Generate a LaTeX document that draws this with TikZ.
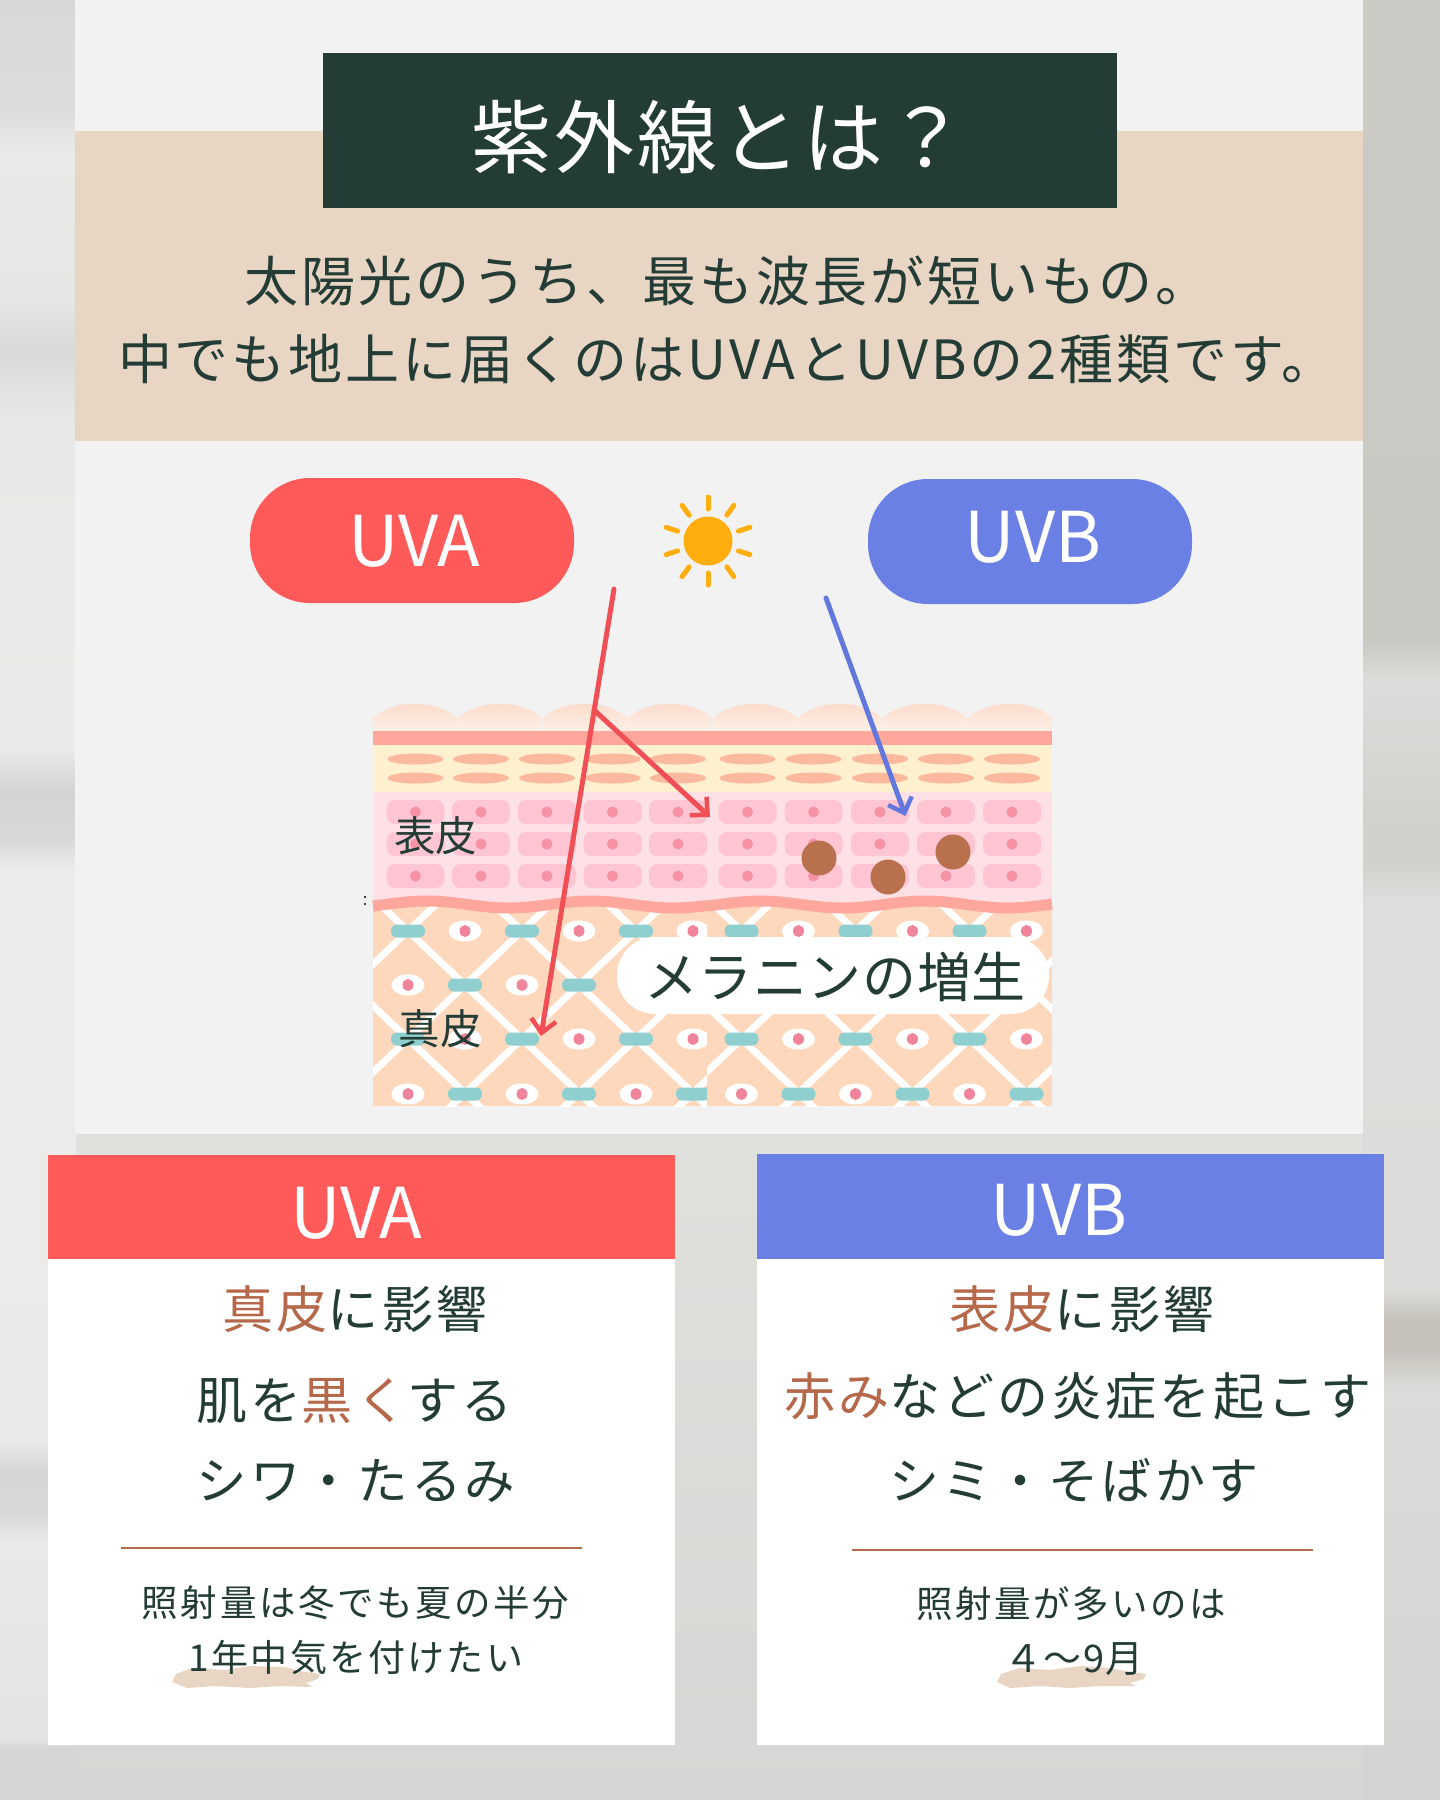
\documentclass[tikz,border=0pt]{standalone}
\usepackage{fontspec}
\usetikzlibrary{arrows.meta}
\newfontfamily\cjk{Noto Sans CJK JP}
\newcommand{\fsz}[2]{\fontsize{#1}{#1}\selectfont\addfontfeature{LetterSpace=#2}}
\definecolor{ink}{HTML}{233C35}
\definecolor{gapa}{HTML}{E0E0DD}
\definecolor{gapb}{HTML}{D6D7D4}
\definecolor{panelc}{HTML}{F2F2F2}
\definecolor{beige}{HTML}{E9D5C3}
\definecolor{uvared}{HTML}{FF5A5A}
\definecolor{uvblue}{HTML}{6A80E4}
\definecolor{accent}{HTML}{B5694A}
\definecolor{arrred}{HTML}{F04F55}
\definecolor{arrblue}{HTML}{6278DC}
\definecolor{sunc}{HTML}{FFAE0D}
\definecolor{skinband}{HTML}{FFA79C}
\definecolor{skinyel}{HTML}{FFF0CF}
\definecolor{skinoval}{HTML}{FDB99D}
\definecolor{skinpink}{HTML}{FEE1E6}
\definecolor{cellc}{HTML}{FFC5D3}
\definecolor{nucc}{HTML}{F792A5}
\definecolor{derm}{HTML}{FDD8BC}
\definecolor{pillc}{HTML}{90CFD0}
\definecolor{eyec}{HTML}{F0849A}
\definecolor{melc}{HTML}{B9704C}
\definecolor{bumpa}{HTML}{FBD9C8}
\definecolor{bumpb}{HTML}{FEF2EA}
\pgfdeclareverticalshading{leftbg}{100bp}{
 rgb(0bp)=(.84,.843,.83); rgb(25bp)=(.84,.843,.83); rgb(26.45bp)=(.84,.843,.83); rgb(26.7bp)=(.89,.894,.886);
 rgb(32.22bp)=(.914,.914,.906); rgb(32.92bp)=(.851,.855,.847); rgb(34.17bp)=(.835,.839,.831);
 rgb(35bp)=(.922,.918,.91); rgb(50.83bp)=(.929,.925,.918); rgb(51.67bp)=(.847,.847,.839);
 rgb(53.06bp)=(.831,.835,.827); rgb(54.17bp)=(.918,.918,.91); rgb(63.33bp)=(.91,.91,.902);
 rgb(65.28bp)=(.851,.855,.847); rgb(66.67bp)=(.902,.902,.894); rgb(70.83bp)=(.914,.914,.906);
 rgb(71.94bp)=(.863,.867,.859); rgb(75bp)=(.847,.851,.843); rgb(100bp)=(.847,.851,.843)}
\pgfdeclareverticalshading{rightbg}{100bp}{
 rgb(0bp)=(.827,.831,.82); rgb(25bp)=(.827,.831,.82); rgb(36.5bp)=(.859,.859,.851);
 rgb(37.5bp)=(.773,.757,.729); rgb(38.3bp)=(.773,.757,.729); rgb(39.2bp)=(.863,.863,.855);
 rgb(50bp)=(.867,.867,.859); rgb(51.1bp)=(.816,.816,.804); rgb(51.9bp)=(.816,.816,.804);
 rgb(56.1bp)=(.863,.863,.855); rgb(57.2bp)=(.788,.784,.765); rgb(75bp)=(.796,.792,.773);
 rgb(100bp)=(.796,.792,.773)}
\tikzset{
  txt/.style={inner sep=0pt,outer sep=0pt,text=ink,font=\cjk,align=center},
  whitetxt/.style={txt,text=white},
  pillbox/.style={fill=#1,draw=none,rounded corners=60pt},
  arr/.style={line width=5pt,draw=#1,-{Straight Barb[length=13pt,width=25pt,line width=4.5pt]},line cap=round}
}
\begin{document}
\begin{tikzpicture}[x=1pt,y=-1pt]
\useasboundingbox (0,0) rectangle (1440,1800);
% background
\shade[top color=gapa,bottom color=gapb] (70,1120) rectangle (1370,1800);
\shade[shading=leftbg] (0,0) rectangle (76,1800);
\shade[shading=rightbg] (1362,0) rectangle (1440,1800);
% panel
\fill[panelc] (75,0) rectangle (1363,1134);
\fill[beige] (75,131) rectangle (1363,441);
\fill[ink] (323,53) rectangle (1117,208);
\node[whitetxt] (title) at (719,137) {\fsz{80}{4}紫外線とは？};
\node[txt] (lead1) at (727,281) {\fsz{54}{5.5}太陽光のうち、最も波長が短いもの。};
\node[txt] (lead2) at (727,359) {\fsz{54}{5.5}中でも地上に届くのはUVAとUVBの2種類です。};
% pills
\node[pillbox=uvared,minimum width=324pt,minimum height=125pt,inner sep=0pt] (pilla) at (412,540.5) {};
\node[pillbox=uvblue,minimum width=324pt,minimum height=125pt,inner sep=0pt] (pillb) at (1030,541.5) {};
\node[whitetxt] (pillatxt) at (414,541) {\fsz{70}{0}UVA};
\node[whitetxt] (pillbtxt) at (1033,537) {\fsz{70}{0}UVB};
% sun
\fill[sunc] (708,541) circle (24.5);
\foreach \a in {18,54,...,342}
  \draw[sunc,line width=5pt,line cap=round] ({708+32*cos(\a)},{541-32*sin(\a)}) -- ({708+44*cos(\a)},{541-44*sin(\a)});
% skin: bumps
\foreach \s in {373,458,543,628,713,798,883,968}
  \shade[top color=bumpa,bottom color=bumpb]
    (\s,718) .. controls (\s+20,699) and (\s+64,699) .. (\s+84,718) -- (\s+84,735) -- (\s,735) -- cycle;
\fill[skinband] (373,731) rectangle (1052,745);
\fill[skinyel] (373,745) rectangle (1052,792);
\fill[skinpink] (373,792) rectangle (1052,905);
\foreach \x in {415.5,481,547,612.5,678,747.5,813.5,880,946,1012}{
  \foreach \y in {759,778}
    \fill[skinoval] (\x,\y) ellipse (28 and 5.5);
  \foreach \y in {812,844,876}{
    \fill[cellc,rounded corners=8pt] (\x-29,\y-12) rectangle (\x+29,\y+12);
    \fill[nucc] (\x,\y) ellipse (5.5 and 5.5);
  }
}
% dermis
\fill[derm] (373,905) rectangle (1052,1106);
\foreach \ox/\xa/\xb in {408/373/707,741.5/707/1052}{
  \begin{scope}
    \clip (\xa,905) rectangle (\xb,1106);
    \foreach \k in {-4,...,7}{
      \draw[white,line width=7pt] ({\ox+114*\k-57},{931-54}) -- ({\ox+114*\k+57*4},{931+54*4});
      \draw[white,line width=7pt] ({\ox+114*\k+57},{931-54}) -- ({\ox+114*\k-57*4},{931+54*4});
    }
    \foreach \i in {0,1,2,3}{
      \pgfmathsetmacro{\px}{\ox+114*\i}
      \pgfmathsetmacro{\qx}{\px+57}
      \foreach \cx/\cy/\kind in {\px/931/0,\qx/931/1,\qx/985/0,\px/985/1,\px/1039/0,\qx/1039/1,\qx/1094/0,\px/1094/1}{
        \ifnum\kind=0
          \fill[pillc,rounded corners=6pt] (\cx-17,\cy-6.5) rectangle (\cx+17,\cy+6.5);
        \else
          \fill[white] (\cx,\cy) ellipse (16.5 and 10.5);
          \fill[eyec] (\cx,\cy) ellipse (5.5 and 6);
        \fi
      }
    }
  \end{scope}
}
% membrane
\draw[skinband,line width=11pt] plot[domain=373:707,samples=40,smooth] (\x,{904.5-3.5*sin(2.1818*(\x-385))});
\draw[skinband,line width=11pt] plot[domain=707:1052,samples=40,smooth] (\x,{904.5-3.5*sin(2.1818*(\x-719))});
% melanin
\fill[melc] (819,858) circle (17.5);
\fill[melc] (888,877) circle (17.5);
\fill[melc] (953,852) circle (17.5);
\fill[black] (365,897) circle (1.1);
\fill[black] (365,904) circle (1.1);
% labels
\node[txt] (epi) at (435.5,836) {\fsz{41.5}{0}表皮};
\node[txt] (der) at (440,1029) {\fsz{41.5}{0}真皮};
\node[fill=white,rounded corners=38pt,minimum width=432pt,minimum height=77pt,inner sep=0pt] (melbox) at (833,975.5) {};
\node[txt] (mel) at (835,977) {\fsz{54}{1}メラニンの増生};
% arrows
\coordinate (aS) at (614,589);
\coordinate (aE) at (541,1036);
\coordinate (bS) at (594,710);
\coordinate (bE) at (710,817);
\coordinate (cS) at (826,598);
\coordinate (cE) at (905.5,816);
\draw[arr=arrred] (aS) -- (aE);
\draw[arr=arrred] (bS) -- (bE);
\draw[arr=arrblue] (cS) -- (cE);
% cards
\fill[white] (48,1155) rectangle (675,1745);
\fill[uvared] (48,1155) rectangle (675,1259);
\fill[white] (757,1154) rectangle (1384,1745);
\fill[uvblue] (757,1154) rectangle (1384,1259);
\node[whitetxt] (heada) at (356,1213) {\fsz{70}{0}UVA};
\node[whitetxt] (headb) at (1059,1210) {\fsz{70}{0}UVB};
\node[txt] (a1) at (355,1309) {\fsz{51}{6}{\color{accent}真皮}に影響};
\node[txt] (a2) at (354.5,1401) {\fsz{51}{6}肌を{\color{accent}黒く}する};
\node[txt] (a3) at (356,1481) {\fsz{50.5}{6}シワ・たるみ};
\coordinate (ra1) at (121,1548);
\coordinate (ra2) at (582,1548);
\draw[accent,line width=2pt] (ra1) -- (ra2);
\fill[beige] (172,1682) -- (176,1674) -- (192,1668) -- (225,1670) -- (250,1666) -- (285,1667) -- (300,1671) -- (320,1674) -- (318,1679) -- (306,1683) -- (312,1687) -- (280,1686) -- (250,1688) -- (215,1686) -- (187,1688) -- cycle;
\node[txt] (a4) at (355.5,1603) {\fsz{36.5}{7}照射量は冬でも夏の半分};
\node[txt] (a5) at (356,1657) {\fsz{37}{6}1年中気を付けたい};
\node[txt] (b1) at (1082,1309) {\fsz{51}{6}{\color{accent}表皮}に影響};
\node[txt] (b2) at (1078,1396) {\fsz{51}{6}{\color{accent}赤み}などの炎症を起こす};
\node[txt] (b3) at (1074,1480) {\fsz{50}{6}シミ・そばかす};
\coordinate (rb1) at (852,1550);
\coordinate (rb2) at (1312.5,1550);
\draw[accent,line width=2pt] (rb1) -- (rb2);
\fill[beige] (997,1682) -- (1001,1674) -- (1020,1668) -- (1050,1670) -- (1080,1666) -- (1110,1668) -- (1125,1671) -- (1146,1674) -- (1144,1679) -- (1130,1683) -- (1136,1686) -- (1100,1686) -- (1070,1688) -- (1040,1686) -- (1010,1688) -- cycle;
\node[txt] (b4) at (1071,1604) {\fsz{36.5}{7}照射量が多いのは};
\node[txt] (b5) at (1074,1659) {\fsz{38}{3}４～9月};
\end{tikzpicture}
\end{document}
